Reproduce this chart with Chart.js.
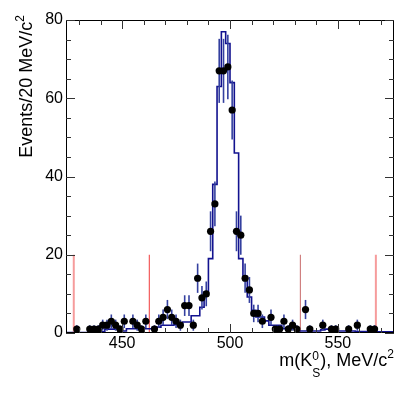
<!DOCTYPE html>
<html>
<head>
<meta charset="utf-8">
<script src="https://cdn.jsdelivr.net/npm/chart.js@4.4.0/dist/chart.umd.min.js"></script>
<style>
  html, body { margin: 0; padding: 0; background: #fff; }
</style>
</head>
<body>
<canvas id="mass-chart" width="415" height="396"></canvas>
<script>
// 2 MeV bins, centres in MeV/c^2
const binCenters = [
  425, 427, 429, 431, 433, 435, 437, 439, 441, 443,
  445, 447, 449, 451, 453, 455, 457, 459, 461, 463,
  465, 467, 469, 471, 473, 475, 477, 479, 481, 483,
  485, 487, 489, 491, 493, 495, 497, 499, 501, 503,
  505, 507, 509, 511, 513, 515, 517, 519, 521, 523,
  525, 527, 529, 531, 533, 535, 537, 539, 541, 543,
  545, 547, 549, 551, 553, 555, 557, 559, 561, 563,
  565, 567, 569, 571, 573, 575,
];

// data counts (null = empty bin, not drawn)
const dataCounts = [
  null, null, 1, null, null, 1, 1, 1, 2, 2,
  3, 2, 1, 3, null, 3, 2, 1, 3, null,
  1, 3, 4, 6, 4, 3, 2, 7, 7, 2,
  14, 9, 10, 26, 33, 67, 67, 68, 57, 26,
  25, 14, 11, 5, 5, 3, null, 4, 1, 1,
  3, 1, 2, 1, null, 6, 1, null, null, 2,
  null, 1, 1, null, null, 1, null, 2, null, null,
  1, 1, null, null, null, null,
];

// blue histogram
const fitValues = [
  0.1, 0.1, 0.1, 0.1, 0.1, 0.1, 0.3, 0.3, 0.3, 1.0,
  1.0, 1.0, 0.5, 0.5, 1.1, 1.1, 1.1, 1.1, 1.1, 1.1,
  1.5, 1.5, 2.0, 2.0, 2.0, 2.2, 2.2, 2.8, 2.8, 4.4,
  4.4, 6.6, 10.5, 19, 38, 63, 77, 74, 64, 46,
  19, 14.5, 9.2, 5.8, 4.1, 4.1, 3.1, 2, 2, 2,
  1.1, 1.1, 1.1, 1.1, 0.5, 0.5, 0.5, 0.5, 0.5, 0.8,
  1.0, 0.6, 0.5, 0.5, 0.5, 0.5, 0.5, 0.4, 0.4, 0.4,
  0.4, 0.4, 0.3, 0.3, 0.3, 0.3,
];

// selection lines (red)
const cutPositions = [427.6, 462.6, 532.6, 567.6];
const cutHeight = 20;

const xTickValues = [450, 500, 550];
const yTickValues = [0, 20, 40, 60, 80];

const BIN_WIDTH = 2;
const FONT = '"Liberation Sans", Arial, Helvetica, sans-serif';
const HIST_COLOR = "#12128f";
const ERR_COLOR = "#34409f";

Chart.defaults.font.family = FONT;
Chart.defaults.color = "#000";

// histogram outline points at lower bin edges, plus the last upper edge
const histPoints = binCenters.map((c, i) => ({ x: c - BIN_WIDTH / 2, y: fitValues[i] }));
histPoints.push({
  x: binCenters[binCenters.length - 1] + BIN_WIDTH / 2,
  y: fitValues[fitValues.length - 1],
});

const dataPoints = binCenters
  .map((c, i) => ({ x: c, y: dataCounts[i] }))
  .filter((p) => p.y !== null);

const cutDatasets = cutPositions.map((pos, i) => {
  const outer = i === 0 || i === cutPositions.length - 1;
  return {
    type: "line",
    data: [{ x: pos, y: 0 }, { x: pos, y: cutHeight }],
    borderColor: outer ? "rgba(240, 90, 90, 0.6)" : i === 1 ? "#f03a3a" : "#c86a6a",
    borderWidth: outer ? 2 : 1,
    pointRadius: 0,
  };
});

// vertical sqrt(N) error bars under the data markers
const errorBars = {
  id: "errorBars",
  beforeDatasetDraw(chart, args) {
    if (args.index !== 0) return;
    const { ctx, chartArea: a, scales: { x, y } } = chart;
    ctx.save();
    ctx.beginPath();
    ctx.rect(a.left, a.top, a.width, a.height);
    ctx.clip();
    ctx.strokeStyle = ERR_COLOR;
    ctx.lineWidth = 1.6;
    binCenters.forEach((c, i) => {
      const n = dataCounts[i];
      if (n === null) return;
      const e = Math.sqrt(n);
      const px = x.getPixelForValue(c);
      ctx.beginPath();
      ctx.moveTo(px, y.getPixelForValue(n - e));
      ctx.lineTo(px, y.getPixelForValue(n + e));
      ctx.stroke();
    });
    ctx.restore();
  },
};

// ROOT-like frame with inward ticks on all four sides
const frameTicks = {
  id: "frameTicks",
  afterDraw(chart) {
    const { ctx, chartArea: a, scales: { x, y } } = chart;
    ctx.save();
    ctx.strokeStyle = "#000";
    ctx.lineWidth = 1;
    ctx.strokeRect(a.left + 0.5, a.top + 0.5, a.width - 1, a.height - 1);

    ctx.strokeStyle = "#333";
    ctx.beginPath();
    for (let v = 430; v <= 570; v += 10) {
      const len = v % 50 === 0 ? 9 : 5;
      const px = Math.round(x.getPixelForValue(v)) + 0.5;
      ctx.moveTo(px, a.bottom);
      ctx.lineTo(px, a.bottom - len);
      ctx.moveTo(px, a.top);
      ctx.lineTo(px, a.top + len);
    }
    for (let v = 0; v <= 80; v += 5) {
      const len = v % 20 === 0 ? 9 : 5;
      const py = Math.round(y.getPixelForValue(v)) + 0.5;
      ctx.moveTo(a.left, py);
      ctx.lineTo(a.left + len, py);
      ctx.moveTo(a.right, py);
      ctx.lineTo(a.right - len, py);
    }
    ctx.stroke();
    ctx.restore();
  },
};

// draw a run of [text, size, dy] pieces starting at x=0 in current frame
function drawPieces(ctx, pieces) {
  let cx = 0;
  pieces.forEach((p) => {
    ctx.font = p.size + "px " + FONT;
    ctx.fillText(p.text, cx, p.dy);
    if (!p.stack) cx += ctx.measureText(p.text).width;
  });
}

function piecesWidth(ctx, pieces) {
  let w = 0;
  pieces.forEach((p) => {
    ctx.font = p.size + "px " + FONT;
    if (!p.stack) w += ctx.measureText(p.text).width;
  });
  return w;
}

const axisTitles = {
  id: "axisTitles",
  afterDraw(chart) {
    const { ctx, chartArea: a } = chart;
    ctx.save();
    ctx.fillStyle = "#000";
    ctx.textBaseline = "alphabetic";
    ctx.textAlign = "left";

    // x title: m(K^0_S), MeV/c^2
    const xPieces = [
      { text: "m(K", size: 18, dy: 0 },
      { text: "0", size: 12, dy: -6, stack: true },
      { text: "S", size: 12, dy: 11 },
      { text: "), MeV/c", size: 18, dy: 0 },
      { text: "2", size: 12, dy: -8 },
    ];
    const xw = piecesWidth(ctx, xPieces);
    ctx.save();
    ctx.translate(a.right - xw, 366);
    drawPieces(ctx, xPieces);
    ctx.restore();

    // y title: Events/20 MeV/c^2, rotated, right-aligned to the top
    const yPieces = [
      { text: "Events/20 MeV/c", size: 18, dy: 0 },
      { text: "2", size: 12, dy: -8 },
    ];
    const yw = piecesWidth(ctx, yPieces);
    ctx.save();
    ctx.translate(32, a.top - 5);
    ctx.rotate(-Math.PI / 2);
    ctx.translate(-yw, 0);
    drawPieces(ctx, yPieces);
    ctx.restore();

    ctx.restore();
  },
};

const ctx = document.getElementById("mass-chart").getContext("2d");

new Chart(ctx, {
  data: {
    datasets: [
      {
        type: "scatter",
        data: dataPoints,
        pointRadius: 3.6,
        pointBackgroundColor: "#000",
        pointBorderWidth: 0,
        showLine: false,
      },
      {
        type: "line",
        data: histPoints,
        stepped: "before",
        borderColor: HIST_COLOR,
        borderWidth: 1.6,
        pointRadius: 0,
        fill: false,
      },
      ...cutDatasets,
    ],
  },
  options: {
    responsive: false,
    animation: false,
    devicePixelRatio: 1,
    layout: { padding: { left: 0, right: 21, top: 20, bottom: 0 } },
    plugins: {
      legend: { display: false },
      tooltip: { enabled: false },
    },
    scales: {
      x: {
        type: "linear",
        min: 424,
        max: 576,
        grid: { display: false, drawTicks: false },
        border: { display: false },
        ticks: { font: { size: 16 }, color: "#000", padding: 1, maxRotation: 0 },
        afterBuildTicks: (scale) => {
          scale.ticks = xTickValues.map((v) => ({ value: v }));
        },
        afterFit: (scale) => {
          scale.height = 63;
        },
      },
      y: {
        type: "linear",
        min: 0,
        max: 80,
        grid: { display: false, drawTicks: false },
        border: { display: false },
        ticks: { font: { size: 16 }, color: "#000", padding: 3 },
        afterBuildTicks: (scale) => {
          scale.ticks = yTickValues.map((v) => ({ value: v }));
        },
        afterFit: (scale) => {
          scale.width = 66;
        },
      },
    },
  },
  plugins: [errorBars, frameTicks, axisTitles],
});
</script>
</body>
</html>
